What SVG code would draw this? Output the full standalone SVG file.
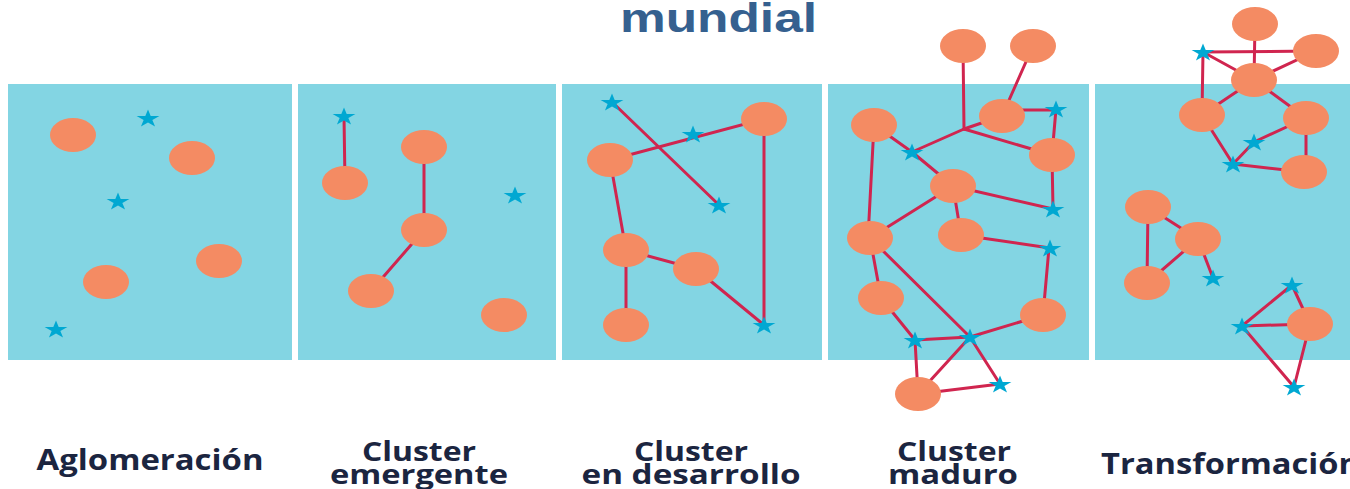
<svg xmlns="http://www.w3.org/2000/svg" xmlns:xlink="http://www.w3.org/1999/xlink" width="1350" height="489" viewBox="0 0 1350 489">
<style>
.panel{fill:#83D5E3}
.n{fill:#F48B63}
.s{fill:#00A8D2}
#connectors line{stroke:#D0254F;stroke-width:3;stroke-linecap:round}
.lbl{font-family:"Open Sans","DejaVu Sans",sans-serif;font-weight:bold;font-size:28px;fill:#1B2540;text-anchor:middle}
.lbl2{font-size:26px}
.title{font-family:"Liberation Sans",Arial,sans-serif;font-weight:bold;font-size:40px;fill:#35608F}
</style>
<defs>
<path id="star" d="M0,-9.4 L2.69,-2.9 L11.41,-2.9 L4.36,1.11 L7.05,7.6 L0,3.59 L-7.05,7.6 L-4.36,1.11 L-11.41,-2.9 L-2.69,-2.9 Z"/>
</defs>
<rect width="1350" height="489" fill="#FFFFFF"/>
<text class="title" x="620" y="32" textLength="197" lengthAdjust="spacingAndGlyphs">mundial</text>
<g id="panels">
<rect class="panel" x="8" y="84" width="284" height="276"/>
<rect class="panel" x="298" y="84" width="258" height="276"/>
<rect class="panel" x="562" y="84" width="260" height="276"/>
<rect class="panel" x="828" y="84" width="261" height="276"/>
<rect class="panel" x="1095" y="84" width="260" height="276"/>
</g>
<g id="connectors">
<line x1="344" y1="116" x2="345" y2="183"/>
<line x1="424" y1="147" x2="424" y2="230"/>
<line x1="424" y1="230" x2="371" y2="291"/>
<line x1="612" y1="102" x2="719" y2="205"/>
<line x1="610" y1="160" x2="764" y2="119"/>
<line x1="764" y1="119" x2="764" y2="325"/>
<line x1="610" y1="160" x2="626" y2="250"/>
<line x1="626" y1="250" x2="696" y2="269"/>
<line x1="626" y1="250" x2="626" y2="325"/>
<line x1="696" y1="269" x2="764" y2="325"/>
<line x1="963" y1="46" x2="964" y2="129"/>
<line x1="1033" y1="46" x2="1002" y2="116"/>
<line x1="1002" y1="110" x2="1056" y2="110"/>
<line x1="1056" y1="109" x2="1052" y2="155"/>
<line x1="964" y1="129" x2="1002" y2="116"/>
<line x1="964" y1="129" x2="912" y2="152"/>
<line x1="964" y1="129" x2="1052" y2="155"/>
<line x1="874" y1="125" x2="912" y2="152"/>
<line x1="912" y1="152" x2="953" y2="186"/>
<line x1="953" y1="186" x2="1053" y2="209"/>
<line x1="1052" y1="155" x2="1053" y2="209"/>
<line x1="953" y1="186" x2="870" y2="238"/>
<line x1="953" y1="186" x2="961" y2="235"/>
<line x1="874" y1="125" x2="868" y2="238"/>
<line x1="961" y1="235" x2="1050" y2="248"/>
<line x1="1049" y1="248" x2="1043" y2="315"/>
<line x1="870" y1="238" x2="881" y2="298"/>
<line x1="870" y1="238" x2="970" y2="337"/>
<line x1="970" y1="337" x2="1000" y2="384"/>
<line x1="881" y1="298" x2="915" y2="340"/>
<line x1="915" y1="340" x2="970" y2="337"/>
<line x1="970" y1="337" x2="1043" y2="315"/>
<line x1="915" y1="340" x2="918" y2="394"/>
<line x1="918" y1="394" x2="970" y2="337"/>
<line x1="918" y1="394" x2="1000" y2="384"/>
<line x1="1203" y1="52" x2="1316" y2="51"/>
<line x1="1255" y1="24" x2="1254" y2="80"/>
<line x1="1203" y1="52" x2="1254" y2="80"/>
<line x1="1254" y1="80" x2="1316" y2="51"/>
<line x1="1203" y1="52" x2="1202" y2="115"/>
<line x1="1202" y1="115" x2="1254" y2="80"/>
<line x1="1254" y1="80" x2="1306" y2="118"/>
<line x1="1306" y1="118" x2="1254" y2="142"/>
<line x1="1254" y1="142" x2="1233" y2="164"/>
<line x1="1202" y1="115" x2="1233" y2="164"/>
<line x1="1233" y1="164" x2="1304" y2="172"/>
<line x1="1306" y1="118" x2="1306" y2="172"/>
<line x1="1148" y1="207" x2="1147" y2="283"/>
<line x1="1148" y1="207" x2="1198" y2="239"/>
<line x1="1198" y1="239" x2="1147" y2="283"/>
<line x1="1198" y1="239" x2="1213" y2="278"/>
<line x1="1292" y1="285" x2="1242" y2="326"/>
<line x1="1242" y1="326" x2="1310" y2="324"/>
<line x1="1292" y1="285" x2="1310" y2="324"/>
<line x1="1242" y1="326" x2="1294" y2="387"/>
<line x1="1310" y1="324" x2="1294" y2="387"/>
</g>
<g id="p1">
<g id="p1-n1"><ellipse class="n" cx="73" cy="135" rx="23" ry="17"/></g>
<g id="p1-n2"><ellipse class="n" cx="192" cy="158" rx="23" ry="17"/></g>
<g id="p1-n3"><ellipse class="n" cx="219" cy="261" rx="23" ry="17"/></g>
<g id="p1-n4"><ellipse class="n" cx="106" cy="282" rx="23" ry="17"/></g>
<g id="p1-s1"><use class="s" href="#star" x="148" y="119"/></g>
<g id="p1-s2"><use class="s" href="#star" x="118" y="202"/></g>
<g id="p1-s3"><use class="s" href="#star" x="56" y="330"/></g>
</g>
<g id="p2">
<g id="p2-n1"><ellipse class="n" cx="345" cy="183" rx="23" ry="17"/></g>
<g id="p2-n2"><ellipse class="n" cx="424" cy="147" rx="23" ry="17"/></g>
<g id="p2-n3"><ellipse class="n" cx="424" cy="230" rx="23" ry="17"/></g>
<g id="p2-n4"><ellipse class="n" cx="371" cy="291" rx="23" ry="17"/></g>
<g id="p2-n5"><ellipse class="n" cx="504" cy="315" rx="23" ry="17"/></g>
<g id="p2-s1"><use class="s" href="#star" x="344" y="117"/></g>
<g id="p2-s2"><use class="s" href="#star" x="515" y="196"/></g>
</g>
<g id="p3">
<g id="p3-n1"><ellipse class="n" cx="764" cy="119" rx="23" ry="17"/></g>
<g id="p3-n2"><ellipse class="n" cx="610" cy="160" rx="23" ry="17"/></g>
<g id="p3-n3"><ellipse class="n" cx="626" cy="250" rx="23" ry="17"/></g>
<g id="p3-n4"><ellipse class="n" cx="696" cy="269" rx="23" ry="17"/></g>
<g id="p3-n5"><ellipse class="n" cx="626" cy="325" rx="23" ry="17"/></g>
<g id="p3-s1"><use class="s" href="#star" x="612" y="103"/></g>
<g id="p3-s2"><use class="s" href="#star" x="693" y="135"/></g>
<g id="p3-s3"><use class="s" href="#star" x="719" y="206"/></g>
<g id="p3-s4"><use class="s" href="#star" x="764" y="326"/></g>
</g>
<g id="p4">
<g id="p4-n1"><ellipse class="n" cx="963" cy="46" rx="23" ry="17"/></g>
<g id="p4-n2"><ellipse class="n" cx="1033" cy="46" rx="23" ry="17"/></g>
<g id="p4-n3"><ellipse class="n" cx="1002" cy="116" rx="23" ry="17"/></g>
<g id="p4-n4"><ellipse class="n" cx="874" cy="125" rx="23" ry="17"/></g>
<g id="p4-n5"><ellipse class="n" cx="1052" cy="155" rx="23" ry="17"/></g>
<g id="p4-n6"><ellipse class="n" cx="953" cy="186" rx="23" ry="17"/></g>
<g id="p4-n7"><ellipse class="n" cx="870" cy="238" rx="23" ry="17"/></g>
<g id="p4-n8"><ellipse class="n" cx="961" cy="235" rx="23" ry="17"/></g>
<g id="p4-n9"><ellipse class="n" cx="881" cy="298" rx="23" ry="17"/></g>
<g id="p4-n10"><ellipse class="n" cx="1043" cy="315" rx="23" ry="17"/></g>
<g id="p4-n11"><ellipse class="n" cx="918" cy="394" rx="23" ry="17"/></g>
<g id="p4-s1"><use class="s" href="#star" x="1056" y="110"/></g>
<g id="p4-s2"><use class="s" href="#star" x="912" y="153"/></g>
<g id="p4-s3"><use class="s" href="#star" x="1053" y="210"/></g>
<g id="p4-s4"><use class="s" href="#star" x="1050" y="249"/></g>
<g id="p4-s5"><use class="s" href="#star" x="915" y="341"/></g>
<g id="p4-s6"><use class="s" href="#star" x="970" y="338"/></g>
<g id="p4-s7"><use class="s" href="#star" x="1000" y="385"/></g>
</g>
<g id="p5">
<g id="p5-n1"><ellipse class="n" cx="1255" cy="24" rx="23" ry="17"/></g>
<g id="p5-n2"><ellipse class="n" cx="1316" cy="51" rx="23" ry="17"/></g>
<g id="p5-n3"><ellipse class="n" cx="1254" cy="80" rx="23" ry="17"/></g>
<g id="p5-n4"><ellipse class="n" cx="1202" cy="115" rx="23" ry="17"/></g>
<g id="p5-n5"><ellipse class="n" cx="1306" cy="118" rx="23" ry="17"/></g>
<g id="p5-n6"><ellipse class="n" cx="1304" cy="172" rx="23" ry="17"/></g>
<g id="p5-n7"><ellipse class="n" cx="1148" cy="207" rx="23" ry="17"/></g>
<g id="p5-n8"><ellipse class="n" cx="1198" cy="239" rx="23" ry="17"/></g>
<g id="p5-n9"><ellipse class="n" cx="1147" cy="283" rx="23" ry="17"/></g>
<g id="p5-n10"><ellipse class="n" cx="1310" cy="324" rx="23" ry="17"/></g>
<g id="p5-s1"><use class="s" href="#star" x="1203" y="53"/></g>
<g id="p5-s2"><use class="s" href="#star" x="1254" y="143"/></g>
<g id="p5-s3"><use class="s" href="#star" x="1233" y="165"/></g>
<g id="p5-s4"><use class="s" href="#star" x="1213" y="279"/></g>
<g id="p5-s5"><use class="s" href="#star" x="1292" y="286"/></g>
<g id="p5-s6"><use class="s" href="#star" x="1242" y="327"/></g>
<g id="p5-s7"><use class="s" href="#star" x="1294" y="388"/></g>
</g>
<g id="labels">
<text class="lbl" x="150" y="470" textLength="227" lengthAdjust="spacingAndGlyphs">Aglomeración</text>
<text class="lbl lbl2" x="419" y="461" textLength="114" lengthAdjust="spacingAndGlyphs">Cluster</text>
<text class="lbl lbl2" x="419" y="484" textLength="178" lengthAdjust="spacingAndGlyphs">emergente</text>
<text class="lbl lbl2" x="691" y="461" textLength="114" lengthAdjust="spacingAndGlyphs">Cluster</text>
<text class="lbl lbl2" x="691" y="484" textLength="219" lengthAdjust="spacingAndGlyphs">en desarrollo</text>
<text class="lbl lbl2" x="954" y="461" textLength="114" lengthAdjust="spacingAndGlyphs">Cluster</text>
<text class="lbl lbl2" x="953" y="484" textLength="130" lengthAdjust="spacingAndGlyphs">maduro</text>
<text class="lbl" x="1101" y="474" style="text-anchor:start" textLength="259" lengthAdjust="spacingAndGlyphs">Transformación</text>
</g>
</svg>
